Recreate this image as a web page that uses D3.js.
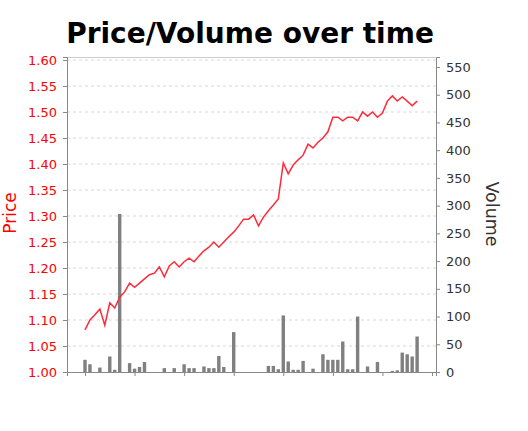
<!DOCTYPE html>
<html>
<head>
<meta charset="utf-8">
<script src="https://cdn.jsdelivr.net/npm/d3@7"></script>
<style>
body{margin:0;background:#fff;}
text{font-family:"DejaVu Sans",sans-serif;}
</style>
</head>
<body>
<svg id="chart"></svg>
<script>
var price = [1.081,1.100,1.110,1.121,1.090,1.133,1.123,1.144,1.154,1.171,
 1.163,1.171,1.179,1.187,1.190,1.202,1.183,1.204,1.212,1.202,
 1.212,1.219,1.212,1.223,1.233,1.240,1.250,1.240,1.250,1.260,
 1.269,1.281,1.294,1.294,1.302,1.281,1.298,1.310,1.321,1.333,
 1.402,1.381,1.398,1.408,1.417,1.438,1.431,1.442,1.450,1.462,
 1.490,1.490,1.483,1.490,1.490,1.483,1.500,1.492,1.500,1.490,
 1.498,1.521,1.531,1.521,1.529,1.521,1.512,1.521]

var volume = [22,14,0,8,0,28,4,285,0,16,
 6,9,18,0,0,0,7,0,7,0,
 14,7,7,0,10,7,7,29,9,0,
 72,0,0,0,0,0,0,11,11,5,
 102,19,4,4,20,0,6,0,32,22,
 22,22,55,5,5,100,0,10,0,18,
 0,0,2,3,35,32,28,64]

var priceTicks = [1.00,1.05,1.10,1.15,1.20,1.25,1.30,1.35,1.40,1.45,1.50,1.55,1.60]
var volumeTicks = [0,50,100,150,200,250,300,350,400,450,500,550]
var xTicks = [0,10,20,30,40,50,60,70]

var screen = {width:528, height:431}
var plot = {left:67, right:436, top:57, bottom:372}

var svg = d3.select("#chart")
  .attr("width", screen.width)
  .attr("height", screen.height)

var xScale = d3.scaleLinear()
  .domain([-3.63, 70.81])
  .range([plot.left, plot.right])

var yPrice = d3.scaleLinear()
  .domain([1.0, 1.6058])
  .range([plot.bottom, plot.top])

var yVol = d3.scaleLinear()
  .domain([0, 568])
  .range([plot.bottom, plot.top])

// grid
svg.append("g")
  .selectAll("line")
  .data(priceTicks.slice(1))
  .enter()
  .append("line")
  .attr("x1", plot.left)
  .attr("x2", plot.right)
  .attr("y1", function(d){return yPrice(d)})
  .attr("y2", function(d){return yPrice(d)})
  .attr("stroke", "#d8d8d8")
  .attr("stroke-dasharray", "3,3")

// top border
svg.append("line")
  .attr("x1", plot.left).attr("x2", plot.right)
  .attr("y1", plot.top + 0.5).attr("y2", plot.top + 0.5)
  .attr("stroke", "#ccc")

// volume bars
svg.append("g")
  .selectAll("rect")
  .data(volume)
  .enter()
  .append("rect")
  .attr("x", function(d,i){return xScale(i) - 1.7})
  .attr("width", 3.4)
  .attr("y", function(d){return yVol(d)})
  .attr("height", function(d){return plot.bottom - yVol(d)})
  .attr("fill", "#808080")

// price line
var line = d3.line()
  .x(function(d,i){return xScale(i)})
  .y(function(d){return yPrice(d)})

svg.append("path")
  .datum(price)
  .attr("d", line)
  .attr("fill", "none")
  .attr("stroke", "#ff2a3a")
  .attr("stroke-width", 1.5)

// axes
var leftAxis = svg.append("g")
  .attr("transform", "translate(" + plot.left + ",0)")
  .call(d3.axisLeft(yPrice).tickValues(priceTicks).tickFormat(d3.format(".2f")).tickSize(4).tickPadding(6))
leftAxis.selectAll("text").attr("fill", "#ff0000").style("font-size", "13px")

var rightAxis = svg.append("g")
  .attr("transform", "translate(" + plot.right + ",0)")
  .call(d3.axisRight(yVol).tickValues(volumeTicks).tickSize(4).tickPadding(6))
rightAxis.selectAll("text").attr("fill", "#333").style("font-size", "13px")

var bottomAxis = svg.append("g")
  .attr("transform", "translate(0," + plot.bottom + ")")
  .call(d3.axisBottom(xScale).tickValues(xTicks).tickFormat("").tickSize(4))

svg.selectAll(".domain, .tick line").attr("stroke", "#888")

// labels
svg.append("text")
  .attr("x", 250)
  .attr("y", 43)
  .attr("text-anchor", "middle")
  .style("font-size", "28px")
  .style("font-weight", "bold")
  .text("Price/Volume over time")

svg.append("text")
  .attr("transform", "translate(15.5,213) rotate(-90)")
  .attr("text-anchor", "middle")
  .attr("fill", "#ff0000")
  .style("font-size", "17px")
  .text("Price")

svg.append("text")
  .attr("transform", "translate(486,214) rotate(90)")
  .attr("text-anchor", "middle")
  .attr("fill", "#333")
  .style("font-size", "17.5px")
  .text("Volume")
</script>
</body>
</html>
